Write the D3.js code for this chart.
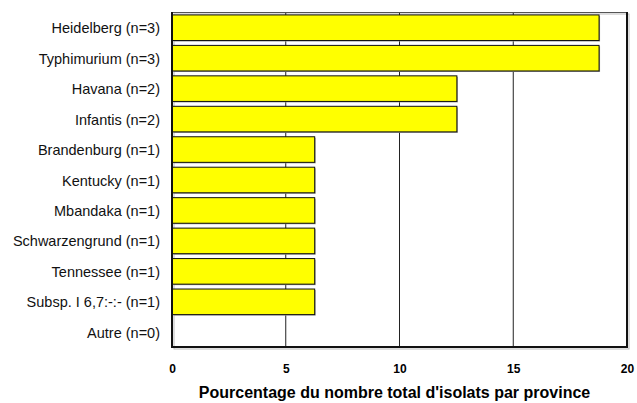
<!DOCTYPE html>
<html>
<head>
<meta charset="utf-8">
<script src="https://cdn.jsdelivr.net/npm/d3@7"></script>
<style>
  body { margin: 0; background: #fff; }
  svg { display: block; font-family: "Liberation Sans", Arial, sans-serif; }
</style>
</head>
<body>
<div id="chartArea"></div>
<script>
// serotypes, top to bottom
let categories = [
   "Heidelberg (n=3)", "Typhimurium (n=3)", "Havana (n=2)", "Infantis (n=2)",
   "Brandenburg (n=1)", "Kentucky (n=1)", "Mbandaka (n=1)", "Schwarzengrund (n=1)",
   "Tennessee (n=1)", "Subsp. I 6,7:-:- (n=1)", "Autre (n=0)"
];
let percents = [18.75, 18.75, 12.5, 12.5, 6.25, 6.25, 6.25, 6.25, 6.25, 6.25, 0];
let tick_values = [0, 5, 10, 15, 20];
let axis_title = "Pourcentage du nombre total d'isolats par province";

let width = 637, height = 403;
let margin = { top: 12, right: 10, bottom: 56, left: 172 };
let plot_w = width - margin.left - margin.right;
let plot_h = height - margin.top - margin.bottom;

let svg = d3.select('#chartArea').append('svg')
   .attr('width', width)
   .attr('height', height);

let x = d3.scaleLinear().domain([0, 20]).range([0, plot_w]);
let y = d3.scaleBand().domain(categories).range([0, plot_h])
   .paddingInner(0.16).paddingOuter(0.08);

let g = svg.append('g').attr('transform', `translate(${margin.left},${margin.top})`);

// frame shadow
g.append('rect')
   .attr('x', 2).attr('y', 2)
   .attr('width', plot_w).attr('height', plot_h)
   .attr('fill', 'none').attr('stroke', '#bbb').attr('stroke-width', 1);

// gridlines
g.selectAll('line.grid').data(tick_values.slice(1, -1))
   .enter().append('line')
   .attr('class', 'grid')
   .attr('x1', d => x(d)).attr('x2', d => x(d))
   .attr('y1', 0).attr('y2', plot_h)
   .attr('stroke', '#222').attr('stroke-width', 1);

let bars = categories.map((c, i) => ({ cat: c, val: percents[i] })).filter(d => d.val > 0);

// bar shadows
g.selectAll('rect.shadow').data(bars)
   .enter().append('rect')
   .attr('class', 'shadow')
   .attr('x', x(0) + 1.5)
   .attr('y', d => y(d.cat) + 1.5)
   .attr('width', d => x(d.val) - x(0))
   .attr('height', y.bandwidth())
   .attr('fill', '#999');

g.selectAll('rect.bar').data(bars)
   .enter().append('rect')
   .attr('class', 'bar')
   .attr('x', x(0) + 0.5)
   .attr('y', d => y(d.cat) + 0.5)
   .attr('width', d => x(d.val) - x(0))
   .attr('height', y.bandwidth())
   .attr('fill', '#ffff00')
   .attr('stroke', '#111').attr('stroke-width', 1);

// frame: thin top, heavy left/right/bottom
g.append('line').attr('x1', 0).attr('x2', plot_w).attr('y1', 0.5).attr('y2', 0.5)
   .attr('stroke', '#555').attr('stroke-width', 1);
g.append('path')
   .attr('d', `M0,0 V${plot_h} H${plot_w} V0`)
   .attr('fill', 'none').attr('stroke', '#111').attr('stroke-width', 2);

// category labels
g.selectAll('text.cat').data(categories)
   .enter().append('text')
   .attr('class', 'cat')
   .attr('x', -12)
   .attr('y', d => y(d) + y.bandwidth() / 2 + 1)
   .attr('dy', '0.35em')
   .attr('text-anchor', 'end')
   .attr('font-size', 14.5)
   .attr('fill', '#111')
   .text(d => d);

// x axis labels
let xAxis = d3.axisBottom(x).tickValues(tick_values).tickSize(0).tickPadding(17)
   .tickFormat(d3.format('d'));
let ax = g.append('g').attr('transform', `translate(0,${plot_h})`).call(xAxis);
ax.select('.domain').remove();
ax.selectAll('text')
   .attr('font-size', 12).attr('font-weight', 'bold')
   .attr('font-family', '"Liberation Sans", Arial, sans-serif').attr('fill', '#000');

svg.append('text')
   .attr('x', margin.left + plot_w / 2 - 5)
   .attr('y', 398)
   .attr('text-anchor', 'middle')
   .attr('font-size', 16).attr('font-weight', 'bold')
   .attr('fill', '#000')
   .text(axis_title);
</script>
</body>
</html>
